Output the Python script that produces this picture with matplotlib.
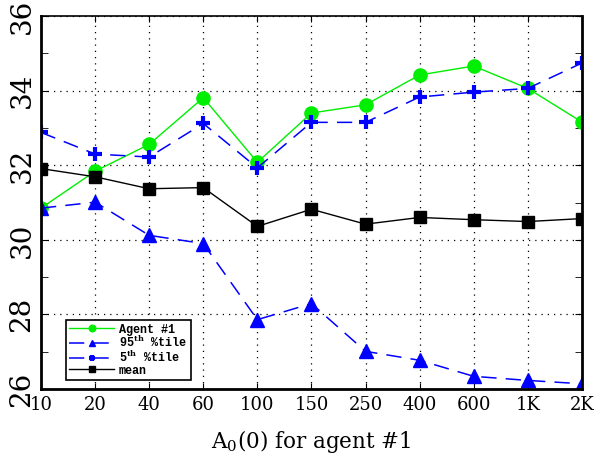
import numpy as np
import matplotlib

matplotlib.use("Agg")
import matplotlib.pyplot as plt
from matplotlib.legend_handler import HandlerLine2D
from matplotlib.ticker import MultipleLocator

categories = ["10", "20", "40", "60", "100", "150", "250", "400", "600", "1K", "2K"]
agent1 = [30.85, 31.84, 32.56, 33.81, 32.08, 33.40, 33.62, 34.42, 34.66, 34.06, 33.16]
pct95 = [30.85, 31.01, 30.12, 29.90, 27.86, 28.29, 27.01, 26.77, 26.34, 26.23, 26.14]
pct5 = [32.88, 32.30, 32.22, 33.12, 31.93, 33.15, 33.15, 33.83, 33.96, 34.06, 34.74]
mean = [31.91, 31.69, 31.37, 31.40, 30.36, 30.82, 30.42, 30.60, 30.54, 30.49, 30.57]

plt.rcParams["mathtext.fontset"] = "dejavuserif"


class LeftMarkerHandler(HandlerLine2D):
    """Legend line with the marker drawn at the left end (MATLAB look)."""

    def get_xdata(self, legend, xdescent, ydescent, width, height, fontsize):
        xdata, _ = super().get_xdata(legend, xdescent, ydescent, width, height, fontsize)
        return xdata, np.array([-xdescent + 0.06 * width])


fig = plt.figure(figsize=(5.98, 4.59), dpi=100)
ax = fig.add_axes([0.0686, 0.1525, 0.9044, 0.8125])

x = np.arange(len(categories))
dash = (0, (10, 6))

ax.plot(x, agent1, color="#00ee00", lw=1.0, marker="o", ms=9.5,
        label="Agent #1")
ax.plot(x, pct95, color="#0000ff", lw=1.1, linestyle=dash, marker="^", ms=9.5,
        label=r"95$^{\mathbf{th}}$ %tile")
ax.plot(x, pct5, color="#0000ff", lw=1.1, linestyle=dash, marker="+", ms=10, mew=3,
        label=r"5$^{\mathbf{th}}$ %tile")
ax.plot(x, mean, color="black", lw=1.0, marker="s", ms=8.5,
        label="mean")

ax.set_xlim(0, len(categories) - 1)
ax.set_ylim(26, 36)
ax.set_xticks(x)
ax.set_xticklabels(categories, fontfamily="DejaVu Serif", fontsize=13)
ax.yaxis.set_major_locator(MultipleLocator(2))
ax.yaxis.set_minor_locator(MultipleLocator(1))
for lab in ax.get_yticklabels():
    lab.set_fontfamily("DejaVu Serif")
    lab.set_fontsize(20)
    lab.set_rotation(90)
    lab.set_va("center")

ax.tick_params(axis="both", which="both", direction="in", top=True, right=True)
ax.tick_params(axis="x", which="major", length=4, pad=5)
ax.tick_params(axis="y", which="major", length=5, pad=4)
ax.tick_params(axis="y", which="minor", length=5)

ax.grid(True, which="major", color="black", linestyle=(0, (1, 4)), lw=0.9)
for side in ["left", "bottom", "right"]:
    ax.spines[side].set_linewidth(2.0)
ax.spines["top"].set_linewidth(1.2)

ax.set_xlabel(r"A$_0$(0) for agent #1", fontfamily="DejaVu Serif", fontsize=15.5,
              labelpad=10)

leg = ax.legend(
    loc="lower left",
    bbox_to_anchor=(0.046, 0.024),
    borderaxespad=0,
    handler_map={l: LeftMarkerHandler(numpoints=1) for l in ax.get_lines()},
    handlelength=3.8,
    handletextpad=0.4,
    labelspacing=-0.08,
    borderpad=0.3,
    markerscale=0.5,
    fancybox=False,
    framealpha=1,
    prop={"family": "Liberation Mono", "weight": "bold", "size": 8.5},
)
leg.get_frame().set_edgecolor("black")
leg.get_frame().set_linewidth(1.2)

fig.savefig("out.png", dpi=100)
plt.close(fig)
